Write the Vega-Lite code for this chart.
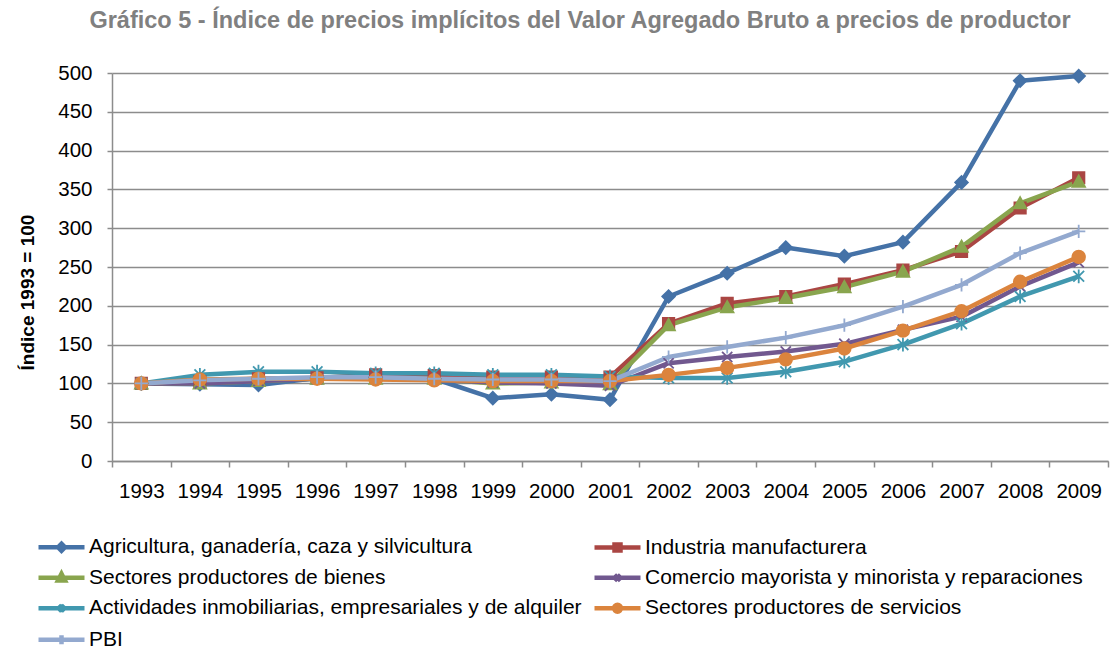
{
  "$schema": "https://vega.github.io/schema/vega-lite/v6.json",
  "autosize": "none",
  "width": 996,
  "height": 388,
  "padding": {"left": 112, "top": 73, "right": 3, "bottom": 189},
  "background": "white",
  "title": {
    "text": "Gráfico 5 - Índice de precios implícitos del Valor Agregado Bruto a precios de productor",
    "font": "Liberation Sans", "fontSize": 23.5, "fontWeight": "bold", "color": "#808080",
    "anchor": "middle", "dx": -30, "offset": 31
  },
  "config": {
    "font": "Liberation Sans",
    "view": {"stroke": null},
    "axis": {"labelFont": "Liberation Sans", "labelFontSize": 20.5, "labelColor": "#000000",
             "domainColor": "#8c8c8c", "domainWidth": 1.5, "tickColor": "#8c8c8c", "tickWidth": 1.5,
             "gridColor": "#8c8c8c", "gridWidth": 1.3, "titleFont": "Liberation Sans"},
    "legend": {"labelFont": "Liberation Sans", "labelFontSize": 21, "labelColor": "#000000"}
  },
  "data": {"values": [
    {"year":"1993","serie":"Agricultura, ganadería, caza y silvicultura","value":100},
    {"year":"1994","serie":"Agricultura, ganadería, caza y silvicultura","value":99},
    {"year":"1995","serie":"Agricultura, ganadería, caza y silvicultura","value":98},
    {"year":"1996","serie":"Agricultura, ganadería, caza y silvicultura","value":107},
    {"year":"1997","serie":"Agricultura, ganadería, caza y silvicultura","value":108},
    {"year":"1998","serie":"Agricultura, ganadería, caza y silvicultura","value":106},
    {"year":"1999","serie":"Agricultura, ganadería, caza y silvicultura","value":81},
    {"year":"2000","serie":"Agricultura, ganadería, caza y silvicultura","value":86},
    {"year":"2001","serie":"Agricultura, ganadería, caza y silvicultura","value":79},
    {"year":"2002","serie":"Agricultura, ganadería, caza y silvicultura","value":212},
    {"year":"2003","serie":"Agricultura, ganadería, caza y silvicultura","value":242},
    {"year":"2004","serie":"Agricultura, ganadería, caza y silvicultura","value":275},
    {"year":"2005","serie":"Agricultura, ganadería, caza y silvicultura","value":264},
    {"year":"2006","serie":"Agricultura, ganadería, caza y silvicultura","value":282},
    {"year":"2007","serie":"Agricultura, ganadería, caza y silvicultura","value":359},
    {"year":"2008","serie":"Agricultura, ganadería, caza y silvicultura","value":490},
    {"year":"2009","serie":"Agricultura, ganadería, caza y silvicultura","value":496},
    {"year":"1993","serie":"Industria manufacturera","value":100},
    {"year":"1994","serie":"Industria manufacturera","value":102},
    {"year":"1995","serie":"Industria manufacturera","value":106},
    {"year":"1996","serie":"Industria manufacturera","value":107},
    {"year":"1997","serie":"Industria manufacturera","value":111},
    {"year":"1998","serie":"Industria manufacturera","value":110},
    {"year":"1999","serie":"Industria manufacturera","value":108},
    {"year":"2000","serie":"Industria manufacturera","value":108},
    {"year":"2001","serie":"Industria manufacturera","value":108},
    {"year":"2002","serie":"Industria manufacturera","value":177},
    {"year":"2003","serie":"Industria manufacturera","value":203},
    {"year":"2004","serie":"Industria manufacturera","value":212},
    {"year":"2005","serie":"Industria manufacturera","value":228},
    {"year":"2006","serie":"Industria manufacturera","value":246},
    {"year":"2007","serie":"Industria manufacturera","value":270},
    {"year":"2008","serie":"Industria manufacturera","value":326},
    {"year":"2009","serie":"Industria manufacturera","value":365},
    {"year":"1993","serie":"Sectores productores de bienes","value":100},
    {"year":"1994","serie":"Sectores productores de bienes","value":100},
    {"year":"1995","serie":"Sectores productores de bienes","value":103},
    {"year":"1996","serie":"Sectores productores de bienes","value":106},
    {"year":"1997","serie":"Sectores productores de bienes","value":106},
    {"year":"1998","serie":"Sectores productores de bienes","value":106},
    {"year":"1999","serie":"Sectores productores de bienes","value":100},
    {"year":"2000","serie":"Sectores productores de bienes","value":101},
    {"year":"2001","serie":"Sectores productores de bienes","value":99},
    {"year":"2002","serie":"Sectores productores de bienes","value":175},
    {"year":"2003","serie":"Sectores productores de bienes","value":198},
    {"year":"2004","serie":"Sectores productores de bienes","value":210},
    {"year":"2005","serie":"Sectores productores de bienes","value":224},
    {"year":"2006","serie":"Sectores productores de bienes","value":244},
    {"year":"2007","serie":"Sectores productores de bienes","value":276},
    {"year":"2008","serie":"Sectores productores de bienes","value":332},
    {"year":"2009","serie":"Sectores productores de bienes","value":360},
    {"year":"1993","serie":"Comercio mayorista y minorista y reparaciones","value":100},
    {"year":"1994","serie":"Comercio mayorista y minorista y reparaciones","value":100},
    {"year":"1995","serie":"Comercio mayorista y minorista y reparaciones","value":103},
    {"year":"1996","serie":"Comercio mayorista y minorista y reparaciones","value":106},
    {"year":"1997","serie":"Comercio mayorista y minorista y reparaciones","value":106},
    {"year":"1998","serie":"Comercio mayorista y minorista y reparaciones","value":105},
    {"year":"1999","serie":"Comercio mayorista y minorista y reparaciones","value":101},
    {"year":"2000","serie":"Comercio mayorista y minorista y reparaciones","value":100},
    {"year":"2001","serie":"Comercio mayorista y minorista y reparaciones","value":97},
    {"year":"2002","serie":"Comercio mayorista y minorista y reparaciones","value":126},
    {"year":"2003","serie":"Comercio mayorista y minorista y reparaciones","value":134},
    {"year":"2004","serie":"Comercio mayorista y minorista y reparaciones","value":141},
    {"year":"2005","serie":"Comercio mayorista y minorista y reparaciones","value":151},
    {"year":"2006","serie":"Comercio mayorista y minorista y reparaciones","value":169},
    {"year":"2007","serie":"Comercio mayorista y minorista y reparaciones","value":186},
    {"year":"2008","serie":"Comercio mayorista y minorista y reparaciones","value":225},
    {"year":"2009","serie":"Comercio mayorista y minorista y reparaciones","value":256},
    {"year":"1993","serie":"Actividades inmobiliarias, empresariales y de alquiler","value":100},
    {"year":"1994","serie":"Actividades inmobiliarias, empresariales y de alquiler","value":111},
    {"year":"1995","serie":"Actividades inmobiliarias, empresariales y de alquiler","value":115},
    {"year":"1996","serie":"Actividades inmobiliarias, empresariales y de alquiler","value":115},
    {"year":"1997","serie":"Actividades inmobiliarias, empresariales y de alquiler","value":113},
    {"year":"1998","serie":"Actividades inmobiliarias, empresariales y de alquiler","value":113},
    {"year":"1999","serie":"Actividades inmobiliarias, empresariales y de alquiler","value":111},
    {"year":"2000","serie":"Actividades inmobiliarias, empresariales y de alquiler","value":111},
    {"year":"2001","serie":"Actividades inmobiliarias, empresariales y de alquiler","value":109},
    {"year":"2002","serie":"Actividades inmobiliarias, empresariales y de alquiler","value":107},
    {"year":"2003","serie":"Actividades inmobiliarias, empresariales y de alquiler","value":107},
    {"year":"2004","serie":"Actividades inmobiliarias, empresariales y de alquiler","value":115},
    {"year":"2005","serie":"Actividades inmobiliarias, empresariales y de alquiler","value":128},
    {"year":"2006","serie":"Actividades inmobiliarias, empresariales y de alquiler","value":150},
    {"year":"2007","serie":"Actividades inmobiliarias, empresariales y de alquiler","value":177},
    {"year":"2008","serie":"Actividades inmobiliarias, empresariales y de alquiler","value":212},
    {"year":"2009","serie":"Actividades inmobiliarias, empresariales y de alquiler","value":238},
    {"year":"1993","serie":"Sectores productores de servicios","value":100},
    {"year":"1994","serie":"Sectores productores de servicios","value":105},
    {"year":"1995","serie":"Sectores productores de servicios","value":106},
    {"year":"1996","serie":"Sectores productores de servicios","value":106},
    {"year":"1997","serie":"Sectores productores de servicios","value":105},
    {"year":"1998","serie":"Sectores productores de servicios","value":104},
    {"year":"1999","serie":"Sectores productores de servicios","value":103},
    {"year":"2000","serie":"Sectores productores de servicios","value":103},
    {"year":"2001","serie":"Sectores productores de servicios","value":103},
    {"year":"2002","serie":"Sectores productores de servicios","value":111},
    {"year":"2003","serie":"Sectores productores de servicios","value":120},
    {"year":"2004","serie":"Sectores productores de servicios","value":131},
    {"year":"2005","serie":"Sectores productores de servicios","value":145},
    {"year":"2006","serie":"Sectores productores de servicios","value":168},
    {"year":"2007","serie":"Sectores productores de servicios","value":193},
    {"year":"2008","serie":"Sectores productores de servicios","value":231},
    {"year":"2009","serie":"Sectores productores de servicios","value":263},
    {"year":"1993","serie":"PBI","value":100},
    {"year":"1994","serie":"PBI","value":104},
    {"year":"1995","serie":"PBI","value":106},
    {"year":"1996","serie":"PBI","value":108},
    {"year":"1997","serie":"PBI","value":108},
    {"year":"1998","serie":"PBI","value":106},
    {"year":"1999","serie":"PBI","value":105},
    {"year":"2000","serie":"PBI","value":105},
    {"year":"2001","serie":"PBI","value":103},
    {"year":"2002","serie":"PBI","value":134},
    {"year":"2003","serie":"PBI","value":147},
    {"year":"2004","serie":"PBI","value":159},
    {"year":"2005","serie":"PBI","value":175},
    {"year":"2006","serie":"PBI","value":199},
    {"year":"2007","serie":"PBI","value":227},
    {"year":"2008","serie":"PBI","value":268},
    {"year":"2009","serie":"PBI","value":296}
  ]},
  "encoding": {
    "x": {"field": "year", "type": "ordinal",
          "scale": {"type": "band", "paddingInner": 0, "paddingOuter": 0},
          "axis": {"title": null, "labelAngle": 0, "tickBand": "extent", "tickSize": 6, "labelPadding": 14, "grid": false}},
    "y": {"field": "value", "type": "quantitative",
          "scale": {"domain": [0, 500], "nice": false},
          "axis": {"title": "Índice 1993 = 100", "titleFontSize": 19, "titleFontWeight": "bold", "titleColor": "#000000",
                   "titleX": -78.5, "titleY": 219, "titleBaseline": "alphabetic", "titleAngle": -90,
                   "values": [0,50,100,150,200,250,300,350,400,450,500], "tickSize": 5, "labelPadding": 15, "grid": true}}
  },
  "layer": [
    {
      "mark": {"type": "line", "strokeWidth": 4.5, "strokeJoin": "round"},
      "encoding": {
        "color": {"field": "serie", "type": "nominal", "legend": null,
          "scale": {"domain": ["Agricultura, ganadería, caza y silvicultura","Industria manufacturera","Sectores productores de bienes","Comercio mayorista y minorista y reparaciones","Actividades inmobiliarias, empresariales y de alquiler","Sectores productores de servicios","PBI"],
                    "range": ["#4572A7","#AA4643","#89A54E","#71588F","#4198AF","#DB843D","#93A9CF"]}}
      }
    },
    {
      "mark": {"type": "point", "filled": true, "size": 144, "opacity": 1, "strokeWidth": 1.8},
      "encoding": {
        "color": {"field": "serie", "type": "nominal", "legend": null,
          "scale": {"domain": ["Agricultura, ganadería, caza y silvicultura","Industria manufacturera","Sectores productores de bienes","Comercio mayorista y minorista y reparaciones","Actividades inmobiliarias, empresariales y de alquiler","Sectores productores de servicios","PBI"],
                    "range": ["#4572A7","#AA4643","#89A54E","#71588F","#4198AF","#DB843D","#93A9CF"]}},
        "stroke": {"field": "serie", "type": "nominal", "legend": null,
          "scale": {"domain": ["Agricultura, ganadería, caza y silvicultura","Industria manufacturera","Sectores productores de bienes","Comercio mayorista y minorista y reparaciones","Actividades inmobiliarias, empresariales y de alquiler","Sectores productores de servicios","PBI"],
                    "range": ["#4572A7","#AA4643","#89A54E","#71588F","#4198AF","#DB843D","#93A9CF"]}},
        "shape": {"field": "serie", "type": "nominal", "legend": null,
          "scale": {"domain": ["Agricultura, ganadería, caza y silvicultura","Industria manufacturera","Sectores productores de bienes","Comercio mayorista y minorista y reparaciones","Actividades inmobiliarias, empresariales y de alquiler","Sectores productores de servicios","PBI"],
                    "range": ["M-1.05,0L0,-1.05L1.05,0L0,1.05Z",
                              "M-0.95,-0.95H0.95V0.95H-0.95Z",
                              "M0,-1.05L1.05,0.85H-1.05Z",
                              "M-0.85,-0.85L0.85,0.85M-0.85,0.85L0.85,-0.85",
                              "M-0.9,-0.9L0.9,0.9M-0.9,0.9L0.9,-0.9M0,-1.15V1.15",
                              "M-1.05,0A1.05,1.05 0 1,0 1.05,0A1.05,1.05 0 1,0 -1.05,0Z",
                              "M-1.1,0H1.1M0,-1.1V1.1"]}}
      }
    },
    {
      "transform": [{"filter": "datum.value < 0"}],
      "mark": {"type": "point", "filled": true, "size": 400, "opacity": 1, "strokeWidth": 4.5},
      "encoding": {
        "color": {"field": "serie", "type": "nominal",
          "scale": {"domain": ["Agricultura, ganadería, caza y silvicultura","Industria manufacturera","Sectores productores de bienes","Comercio mayorista y minorista y reparaciones","Actividades inmobiliarias, empresariales y de alquiler","Sectores productores de servicios","PBI"],
                    "range": ["#4572A7","#AA4643","#89A54E","#71588F","#4198AF","#DB843D","#93A9CF"]},
          "legend": {"title": null, "orient": "none", "legendX": -76, "legendY": 461.75, "columns": 2, "padding": 0,
                     "values": ["Agricultura, ganadería, caza y silvicultura","Sectores productores de bienes","Actividades inmobiliarias, empresariales y de alquiler","PBI","Industria manufacturera","Comercio mayorista y minorista y reparaciones","Sectores productores de servicios"],
                     "symbolSize": 400, "symbolStrokeWidth": 4.5, "symbolOpacity": 1, "labelOffset": 28,
                     "rowPadding": 4.5, "columnPadding": 3, "labelFontSize": 21, "labelLimit": 0}},
        "stroke": {"field": "serie", "type": "nominal",
          "scale": {"domain": ["Agricultura, ganadería, caza y silvicultura","Industria manufacturera","Sectores productores de bienes","Comercio mayorista y minorista y reparaciones","Actividades inmobiliarias, empresariales y de alquiler","Sectores productores de servicios","PBI"],
                    "range": ["#4572A7","#AA4643","#89A54E","#71588F","#4198AF","#DB843D","#93A9CF"]},
          "legend": {"title": null, "orient": "none", "legendX": -76, "legendY": 461.75, "columns": 2, "padding": 0,
                     "values": ["Agricultura, ganadería, caza y silvicultura","Sectores productores de bienes","Actividades inmobiliarias, empresariales y de alquiler","PBI","Industria manufacturera","Comercio mayorista y minorista y reparaciones","Sectores productores de servicios"],
                     "symbolSize": 400, "symbolStrokeWidth": 4.5, "symbolOpacity": 1, "labelOffset": 28,
                     "rowPadding": 4.5, "columnPadding": 3, "labelFontSize": 21, "labelLimit": 0}},
        "shape": {"field": "serie", "type": "nominal",
          "scale": {"domain": ["Agricultura, ganadería, caza y silvicultura","Industria manufacturera","Sectores productores de bienes","Comercio mayorista y minorista y reparaciones","Actividades inmobiliarias, empresariales y de alquiler","Sectores productores de servicios","PBI"],
                    "range": ["M-1,0H3.6M0.95,0L1.3,-0.35L1.65,0L1.3,0.35Z",
                              "M-1,0H3.6M1.0,-0.3H1.6V0.3H1.0Z",
                              "M-1,0H3.6M1.3,-0.4L1.65,0.28H0.95Z",
                              "M-1,0H3.6M1.0,-0.3L1.6,0.3M1.0,0.3L1.6,-0.3",
                              "M-1,0H3.6M1.0,-0.3L1.6,0.3M1.0,0.3L1.6,-0.3M1.3,-0.4V0.4",
                              "M-1,0H3.6M0.95,0A0.35,0.35 0 1,0 1.65,0A0.35,0.35 0 1,0 0.95,0Z",
                              "M-1,0H3.6M1.3,-0.45V0.45"]},
          "legend": {"title": null, "orient": "none", "legendX": -76, "legendY": 461.75, "columns": 2, "padding": 0,
                     "values": ["Agricultura, ganadería, caza y silvicultura","Sectores productores de bienes","Actividades inmobiliarias, empresariales y de alquiler","PBI","Industria manufacturera","Comercio mayorista y minorista y reparaciones","Sectores productores de servicios"],
                     "symbolSize": 400, "symbolStrokeWidth": 4.5, "symbolOpacity": 1, "labelOffset": 28,
                     "rowPadding": 4.5, "columnPadding": 3, "labelFontSize": 21, "labelLimit": 0}}
      }
    }
  ],
  "resolve": {"scale": {"color": "independent", "stroke": "independent", "shape": "independent"}}
}
